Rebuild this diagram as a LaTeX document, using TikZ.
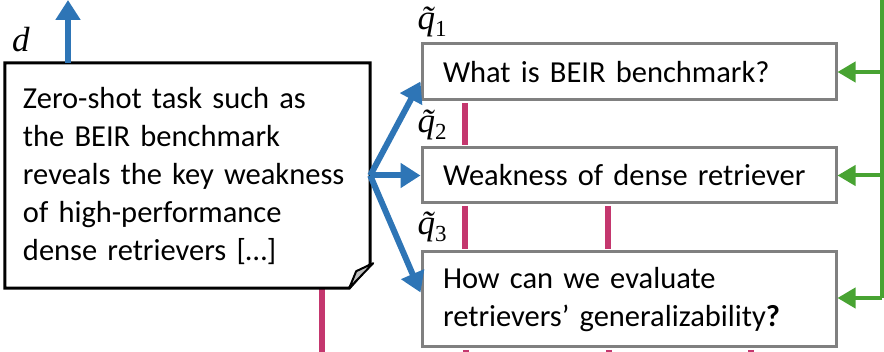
\documentclass[tikz,border=0pt]{standalone}
\usepackage{fontspec}
\setmainfont{Carlito}
\newfontfamily\labelfont{Liberation Serif}
\usetikzlibrary{arrows.meta,calc}
\definecolor{flowblue}{RGB}{46,117,182}
\definecolor{flowgreen}{RGB}{72,163,50}
\definecolor{linkpink}{RGB}{196,55,110}
\definecolor{boxgray}{RGB}{128,128,128}
% italic variable with a tilde and an upright index
\newcommand{\qlabel}[1]{\itshape\~{q}\raisebox{-7pt}{\upshape\fontsize{23}{23}\selectfont #1}}
\tikzset{
  qbox/.style={draw=boxgray,line width=3pt,fill=white,rectangle,minimum width=414pt,
    inner xsep=21pt,inner ysep=0pt,text width=372pt,align=left,
    font=\fontsize{30.5}{38}\selectfont},
  bluearrow/.style={draw=flowblue,line width=6pt,-{Triangle[width=24pt,length=20pt]}},
  greenarrow/.style={draw=flowgreen,line width=4pt,-{Triangle[width=20pt,length=18pt]}},
  greenline/.style={draw=flowgreen,line width=4pt},
  pinkline/.style={draw=linkpink,line width=6pt},
  mathlabel/.style={inner sep=0pt,font=\labelfont\fontsize{35}{35}\selectfont}
}
\begin{document}
\begin{tikzpicture}[x=1pt,y=-1pt]
\useasboundingbox (0,0) rectangle (884,352);

% document card
\node[rectangle,minimum width=365pt,minimum height=225pt,inner xsep=18pt,
  text width=329pt,align=left,font=\fontsize{30.5}{38}\selectfont]
  (doc) at (187.5,175.5)
  {Zero-shot task such as\\the BEIR benchmark\\reveals the key weakness\\of high-performance\\dense retrievers [\dots]};

% pink link below the card
\coordinate (dlow) at (322,352);
\draw[pinkline] (doc.south -| dlow) -- (dlow);

% card outline with folded corner
\draw[black,line width=3pt,line join=miter]
  (doc.north west) -- (doc.north east) -- ($(doc.south east)+(0,-24)$)
  -- ($(doc.south east)+(-21,0)$) -- (doc.south west) -- cycle;
\draw[black,line width=2pt,fill=black!25,line join=round]
  ($(doc.south east)+(-21,0)$) -- ($(doc.south east)+(-14,-17)$)
  -- ($(doc.south east)+(3,-25)$) -- cycle;

% output arrow of the card
\coordinate (dtop) at (68,0);
\draw[bluearrow] (doc.north -| dtop) -- (dtop);
\node[mathlabel] (dlab) at (21,40) {\itshape d};

% sub-query boxes
\node[qbox,minimum height=56pt] (q1) at (629,72) {What is BEIR benchmark?};
\node[qbox,minimum height=55pt] (q2) at (629,175.5) {Weakness of dense retriever};
\node[qbox,minimum height=95pt] (q3) at (629,299.5) {How can we evaluate\\retrievers' generalizability\textbf{?}};

\node[mathlabel] (l1) at (432,22) {\qlabel{1}};
\node[mathlabel] (l2) at (432,125) {\qlabel{2}};
\node[mathlabel] (l3) at (432,227) {\qlabel{3}};

% pink links between boxes
\draw[pinkline] ($(q1.south west)+(44,1.5)$) -- ($(q2.north west)+(44,-1.5)$);
\draw[pinkline] ($(q2.south west)+(44,1.5)$) -- ($(q3.north west)+(44,-1.5)$);
\draw[pinkline] ($(q2.south west)+(187,1.5)$) -- ($(q3.north west)+(187,-1.5)$);
\coordinate (q3b) at ($(q3.south)+(0,1.5)$);
\coordinate (b1) at (466,352);
\coordinate (b2) at (609,352);
\coordinate (b3) at (751,352);
\draw[pinkline] (q3b -| b1) -- (b1);
\draw[pinkline] (q3b -| b2) -- (b2);
\draw[pinkline] (q3b -| b3) -- (b3);

% blue split arrows
\draw[bluearrow] (doc.east) -- ($(q1.south west)+(0,-20)$);
\draw[bluearrow] (doc.east) -- (q2.west);
\draw[bluearrow] (doc.east) -- ($(q3.west)+(0,-7)$);

% green feedback arrows
\coordinate (gtop) at (882,0);
\coordinate (g3) at (882,298);
\draw[greenline] (gtop) -- (g3);
\draw[greenarrow] (q1.east -| gtop) -- (q1.east);
\draw[greenarrow] (q2.east -| gtop) -- (q2.east);
\draw[greenarrow] (g3) -- (g3 -| q3.east);
\end{tikzpicture}
\end{document}
